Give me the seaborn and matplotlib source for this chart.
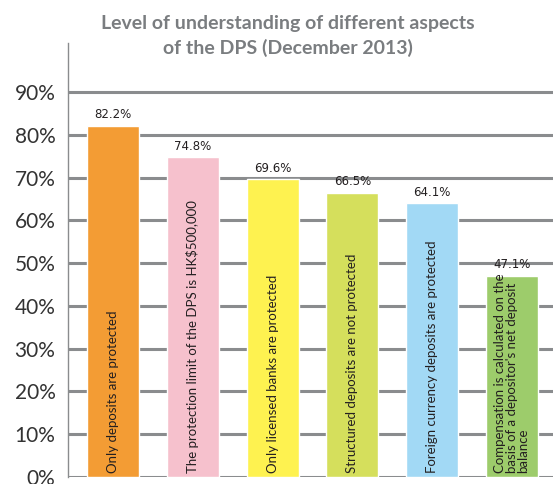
import matplotlib
matplotlib.use("Agg")
import matplotlib.pyplot as plt
import seaborn as sns
import pandas as pd

categories = [
    "Only deposits are protected",
    "The protection limit of the DPS is HK\\$500,000",
    "Only licensed banks are protected",
    "Structured deposits are not protected",
    "Foreign currency deposits are protected",
    "Compensation is calculated on the\nbasis of a depositor's net deposit\nbalance",
]
values = [82.2, 74.8, 69.6, 66.5, 64.1, 47.1]
value_labels = ["82.2%", "74.8%", "69.6%", "66.5%", "64.1%", "47.1%"]
colors = ["#f39c34", "#f6c1cd", "#fef250", "#d5df5c", "#a2d9f5", "#9dcc6b"]
yticks = [0, 10, 20, 30, 40, 50, 60, 70, 80, 90]
ytick_labels = ["0%", "10%", "20%", "30%", "40%", "50%", "60%", "70%", "80%", "90%"]
title = "Level of understanding of different aspects\nof the DPS (December 2013)"

sns.set_theme(style="white")
plt.rcParams["font.family"] = ["Lato", "DejaVu Sans"]

df = pd.DataFrame({"cat": categories, "val": values})

fig = plt.figure(figsize=(5.53, 4.84), dpi=100)
ax = fig.add_axes([68 / 553, 7 / 484, 1 - 68 / 553, (477 - 43) / 484])

sns.barplot(data=df, x="cat", y="val", hue="cat", palette=colors,
            legend=False, width=0.65, ax=ax, saturation=1, zorder=3)

ax.set_xlim(-0.564, 5.514)
ax.set_ylim(0, 101.5)
ax.set_yticks(yticks)
ax.set_yticklabels(ytick_labels, fontsize=15, color="#333333")
ax.tick_params(axis="y", length=0, pad=9)
ax.set_xticks([])
ax.set_xlabel("")
ax.set_ylabel("")
ax.yaxis.grid(True, color="#8a8c8e", lw=2.2)
ax.set_axisbelow(True)
for s in ["top", "right", "bottom"]:
    ax.spines[s].set_visible(False)
ax.spines["left"].set_color("#8a8c8e")
ax.spines["left"].set_linewidth(1)

for i, (v, lab, cat) in enumerate(zip(values, value_labels, categories)):
    ax.text(i, v + 1.0, lab, ha="center", va="bottom", fontsize=8.5,
            color="#231f20", family=["DejaVu Sans"])
    ax.text(i, 1.0, cat, rotation=90, ha="center", va="bottom",
            multialignment="left", fontsize=9.5, color="#231f20",
            family=["Lato", "DejaVu Sans"], linespacing=0.95, zorder=4)

fig.text(0.52, 1 - 36 / 484, title, ha="center", va="center", fontsize=14,
         fontweight="bold", color="#7a7d80", linespacing=1.45)

fig.savefig("out.png", dpi=100)
